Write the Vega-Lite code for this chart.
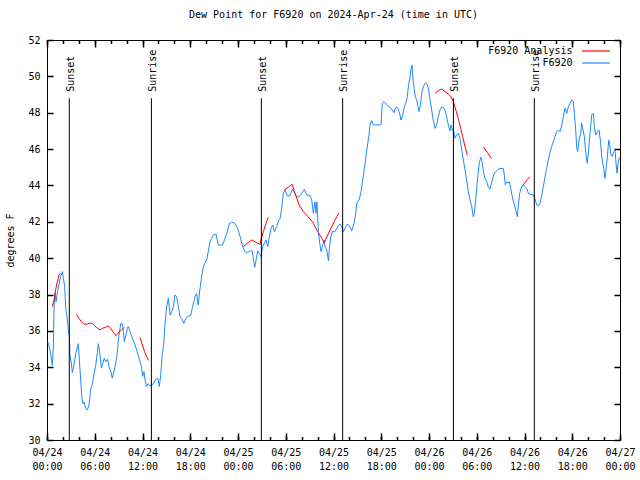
{
  "$schema": "https://vega.github.io/schema/vega-lite/v6.json",
  "width": 573,
  "height": 400,
  "autosize": "none",
  "padding": {"left": 47, "top": 40, "right": 20, "bottom": 40},
  "background": "white",
  "title": {"text": "Dew Point for F6920 on 2024-Apr-24 (time in UTC)", "font": "DejaVu Sans Mono", "fontSize": 10, "fontWeight": "normal", "anchor": "middle", "offset": 15, "color": "black"},
  "config": {
    "font": "DejaVu Sans Mono",
    "view": {"stroke": "black", "strokeWidth": 1},
    "axis": {"grid": false, "domain": false, "labelFont": "DejaVu Sans Mono", "labelFontSize": 10, "labelColor": "black", "titleFont": "DejaVu Sans Mono", "titleFontSize": 10, "titleFontWeight": "normal", "titleColor": "black", "labelFlush": false, "labelOverlap": false}
  },
  "datasets": {
    "blue": [
      {"t":"2024-04-24T00:08:00Z","v":35.38},{"t":"2024-04-24T00:23:00Z","v":34.95},{"t":"2024-04-24T00:33:00Z","v":34.5},{"t":"2024-04-24T00:40:00Z","v":34.1},{"t":"2024-04-24T00:48:00Z","v":35.1},{"t":"2024-04-24T00:53:00Z","v":37.3},{"t":"2024-04-24T01:00:00Z","v":38.1},{"t":"2024-04-24T01:08:00Z","v":37.6},{"t":"2024-04-24T01:18:00Z","v":38.1},{"t":"2024-04-24T01:31:00Z","v":38.6},{"t":"2024-04-24T01:43:00Z","v":39.0},{"t":"2024-04-24T01:56:00Z","v":39.27},{"t":"2024-04-24T02:03:00Z","v":38.9},{"t":"2024-04-24T02:13:00Z","v":38.5},{"t":"2024-04-24T02:21:00Z","v":37.25},{"t":"2024-04-24T02:34:00Z","v":36.6},{"t":"2024-04-24T02:41:00Z","v":36.05},{"t":"2024-04-24T02:49:00Z","v":35.7},{"t":"2024-04-24T02:53:00Z","v":34.7},{"t":"2024-04-24T03:04:00Z","v":34.2},{"t":"2024-04-24T03:11:00Z","v":33.7},{"t":"2024-04-24T03:19:00Z","v":33.95},{"t":"2024-04-24T03:29:00Z","v":34.4},{"t":"2024-04-24T03:38:00Z","v":34.8},{"t":"2024-04-24T03:49:00Z","v":35.1},{"t":"2024-04-24T03:56:00Z","v":35.3},{"t":"2024-04-24T04:04:00Z","v":34.4},{"t":"2024-04-24T04:14:00Z","v":33.3},{"t":"2024-04-24T04:22:00Z","v":32.4},{"t":"2024-04-24T04:31:00Z","v":32.0},{"t":"2024-04-24T04:39:00Z","v":32.1},{"t":"2024-04-24T04:52:00Z","v":31.74},{"t":"2024-04-24T05:04:00Z","v":31.65},{"t":"2024-04-24T05:17:00Z","v":31.93},{"t":"2024-04-24T05:29:00Z","v":32.75},{"t":"2024-04-24T05:42:00Z","v":33.1},{"t":"2024-04-24T05:54:00Z","v":33.6},{"t":"2024-04-24T06:07:00Z","v":34.1},{"t":"2024-04-24T06:20:00Z","v":34.8},{"t":"2024-04-24T06:27:00Z","v":35.3},{"t":"2024-04-24T06:37:00Z","v":34.86},{"t":"2024-04-24T06:50:00Z","v":33.95},{"t":"2024-04-24T07:00:00Z","v":34.2},{"t":"2024-04-24T07:12:00Z","v":34.5},{"t":"2024-04-24T07:25:00Z","v":34.3},{"t":"2024-04-24T07:37:00Z","v":34.44},{"t":"2024-04-24T07:50:00Z","v":33.95},{"t":"2024-04-24T08:02:00Z","v":33.76},{"t":"2024-04-24T08:12:00Z","v":33.4},{"t":"2024-04-24T08:25:00Z","v":33.76},{"t":"2024-04-24T08:38:00Z","v":34.2},{"t":"2024-04-24T08:50:00Z","v":34.8},{"t":"2024-04-24T08:58:00Z","v":35.5},{"t":"2024-04-24T09:05:00Z","v":35.87},{"t":"2024-04-24T09:16:00Z","v":36.4},{"t":"2024-04-24T09:28:00Z","v":36.4},{"t":"2024-04-24T09:36:00Z","v":35.96},{"t":"2024-04-24T09:43:00Z","v":35.4},{"t":"2024-04-24T09:53:00Z","v":35.7},{"t":"2024-04-24T10:06:00Z","v":36.15},{"t":"2024-04-24T10:13:00Z","v":36.24},{"t":"2024-04-24T10:26:00Z","v":35.96},{"t":"2024-04-24T10:43:00Z","v":35.6},{"t":"2024-04-24T11:01:00Z","v":35.3},{"t":"2024-04-24T11:16:00Z","v":34.95},{"t":"2024-04-24T11:34:00Z","v":34.5},{"t":"2024-04-24T11:52:00Z","v":34.04},{"t":"2024-04-24T12:01:00Z","v":33.5},{"t":"2024-04-24T12:11:00Z","v":33.76},{"t":"2024-04-24T12:19:00Z","v":33.3},{"t":"2024-04-24T12:31:00Z","v":32.94},{"t":"2024-04-24T12:41:00Z","v":33.1},{"t":"2024-04-24T12:56:00Z","v":33.0},{"t":"2024-04-24T13:07:00Z","v":33.0},{"t":"2024-04-24T13:22:00Z","v":33.1},{"t":"2024-04-24T13:39:00Z","v":33.34},{"t":"2024-04-24T13:57:00Z","v":33.38},{"t":"2024-04-24T14:07:00Z","v":32.94},{"t":"2024-04-24T14:17:00Z","v":33.57},{"t":"2024-04-24T14:30:00Z","v":34.77},{"t":"2024-04-24T14:39:00Z","v":35.2},{"t":"2024-04-24T14:50:00Z","v":36.42},{"t":"2024-04-24T15:02:00Z","v":37.34},{"t":"2024-04-24T15:15:00Z","v":37.8},{"t":"2024-04-24T15:28:00Z","v":36.87},{"t":"2024-04-24T15:40:00Z","v":37.05},{"t":"2024-04-24T15:53:00Z","v":37.34},{"t":"2024-04-24T16:05:00Z","v":37.98},{"t":"2024-04-24T16:17:00Z","v":37.9},{"t":"2024-04-24T16:30:00Z","v":37.34},{"t":"2024-04-24T16:43:00Z","v":36.78},{"t":"2024-04-24T16:55:00Z","v":36.7},{"t":"2024-04-24T17:12:00Z","v":36.42},{"t":"2024-04-24T17:27:00Z","v":36.7},{"t":"2024-04-24T17:46:00Z","v":36.82},{"t":"2024-04-24T18:03:00Z","v":36.84},{"t":"2024-04-24T18:18:00Z","v":37.34},{"t":"2024-04-24T18:36:00Z","v":37.88},{"t":"2024-04-24T18:48:00Z","v":38.06},{"t":"2024-04-24T19:00:00Z","v":37.42},{"t":"2024-04-24T19:12:00Z","v":38.25},{"t":"2024-04-24T19:24:00Z","v":38.9},{"t":"2024-04-24T19:36:00Z","v":39.44},{"t":"2024-04-24T19:48:00Z","v":39.7},{"t":"2024-04-24T20:04:00Z","v":39.9},{"t":"2024-04-24T20:18:00Z","v":40.45},{"t":"2024-04-24T20:29:00Z","v":40.9},{"t":"2024-04-24T20:41:00Z","v":41.09},{"t":"2024-04-24T20:54:00Z","v":41.27},{"t":"2024-04-24T21:14:00Z","v":41.33},{"t":"2024-04-24T21:32:00Z","v":40.72},{"t":"2024-04-24T22:04:00Z","v":40.72},{"t":"2024-04-24T22:22:00Z","v":41.09},{"t":"2024-04-24T22:40:00Z","v":41.45},{"t":"2024-04-24T22:54:00Z","v":41.9},{"t":"2024-04-24T23:12:00Z","v":41.96},{"t":"2024-04-24T23:32:00Z","v":41.94},{"t":"2024-04-24T23:50:00Z","v":41.73},
      {"t":"2024-04-25T00:02:00Z","v":41.54},{"t":"2024-04-25T00:20:00Z","v":41.09},{"t":"2024-04-25T00:35:00Z","v":40.63},{"t":"2024-04-25T00:53:00Z","v":40.36},{"t":"2024-04-25T01:10:00Z","v":40.3},{"t":"2024-04-25T01:30:00Z","v":40.4},{"t":"2024-04-25T01:48:00Z","v":40.4},{"t":"2024-04-25T01:56:00Z","v":39.9},{"t":"2024-04-25T02:06:00Z","v":39.5},{"t":"2024-04-25T02:16:00Z","v":39.9},{"t":"2024-04-25T02:29:00Z","v":40.4},{"t":"2024-04-25T02:41:00Z","v":40.27},{"t":"2024-04-25T02:54:00Z","v":40.08},{"t":"2024-04-25T03:06:00Z","v":40.63},{"t":"2024-04-25T03:19:00Z","v":40.82},{"t":"2024-04-25T03:31:00Z","v":41.0},{"t":"2024-04-25T03:44:00Z","v":40.63},{"t":"2024-04-25T03:56:00Z","v":41.18},{"t":"2024-04-25T04:09:00Z","v":41.64},{"t":"2024-04-25T04:22:00Z","v":41.82},{"t":"2024-04-25T04:34:00Z","v":41.45},{"t":"2024-04-25T04:52:00Z","v":41.73},{"t":"2024-04-25T05:04:00Z","v":42.05},{"t":"2024-04-25T05:17:00Z","v":42.18},{"t":"2024-04-25T05:29:00Z","v":42.7},{"t":"2024-04-25T05:42:00Z","v":43.6},{"t":"2024-04-25T05:55:00Z","v":43.74},{"t":"2024-04-25T06:12:00Z","v":43.42},{"t":"2024-04-25T06:32:00Z","v":43.45},{"t":"2024-04-25T06:50:00Z","v":43.8},{"t":"2024-04-25T07:05:00Z","v":43.6},{"t":"2024-04-25T07:23:00Z","v":43.38},{"t":"2024-04-25T07:40:00Z","v":43.38},{"t":"2024-04-25T08:00:00Z","v":43.57},{"t":"2024-04-25T08:20:00Z","v":43.79},{"t":"2024-04-25T08:38:00Z","v":43.48},{"t":"2024-04-25T09:03:00Z","v":43.44},{"t":"2024-04-25T09:16:00Z","v":43.2},{"t":"2024-04-25T09:28:00Z","v":42.47},{"t":"2024-04-25T09:40:00Z","v":43.1},{"t":"2024-04-25T09:48:00Z","v":42.47},{"t":"2024-04-25T09:55:00Z","v":43.1},{"t":"2024-04-25T10:06:00Z","v":41.46},{"t":"2024-04-25T10:16:00Z","v":40.82},{"t":"2024-04-25T10:26:00Z","v":40.36},{"t":"2024-04-25T10:36:00Z","v":40.63},{"t":"2024-04-25T10:49:00Z","v":41.0},{"t":"2024-04-25T10:56:00Z","v":40.63},{"t":"2024-04-25T11:09:00Z","v":40.45},{"t":"2024-04-25T11:22:00Z","v":39.86},{"t":"2024-04-25T11:29:00Z","v":40.54},{"t":"2024-04-25T11:40:00Z","v":41.18},{"t":"2024-04-25T11:52:00Z","v":41.46},{"t":"2024-04-25T12:11:00Z","v":41.46},{"t":"2024-04-25T12:32:00Z","v":41.73},{"t":"2024-04-25T12:49:00Z","v":41.88},{"t":"2024-04-25T13:02:00Z","v":41.73},{"t":"2024-04-25T13:14:00Z","v":41.46},{"t":"2024-04-25T13:32:00Z","v":41.73},{"t":"2024-04-25T13:47:00Z","v":41.88},{"t":"2024-04-25T14:04:00Z","v":41.73},{"t":"2024-04-25T14:17:00Z","v":41.5},{"t":"2024-04-25T14:35:00Z","v":41.92},{"t":"2024-04-25T14:47:00Z","v":42.47},{"t":"2024-04-25T14:58:00Z","v":43.1},{"t":"2024-04-25T15:13:00Z","v":43.2},{"t":"2024-04-25T15:28:00Z","v":43.66},{"t":"2024-04-25T15:37:00Z","v":44.12},{"t":"2024-04-25T15:48:00Z","v":44.67},{"t":"2024-04-25T15:58:00Z","v":45.22},{"t":"2024-04-25T16:08:00Z","v":45.77},{"t":"2024-04-25T16:18:00Z","v":46.32},{"t":"2024-04-25T16:28:00Z","v":46.78},{"t":"2024-04-25T16:35:00Z","v":47.33},{"t":"2024-04-25T16:48:00Z","v":47.57},{"t":"2024-04-25T17:00:00Z","v":47.33},{"t":"2024-04-25T17:26:00Z","v":47.33},{"t":"2024-04-25T17:58:00Z","v":47.33},{"t":"2024-04-25T18:08:00Z","v":48.52},{"t":"2024-04-25T18:21:00Z","v":48.61},{"t":"2024-04-25T18:41:00Z","v":48.43},{"t":"2024-04-25T19:06:00Z","v":48.3},{"t":"2024-04-25T19:23:00Z","v":48.15},{"t":"2024-04-25T19:38:00Z","v":48.0},{"t":"2024-04-25T19:44:00Z","v":48.24},{"t":"2024-04-25T20:01:00Z","v":48.3},{"t":"2024-04-25T20:16:00Z","v":48.06},{"t":"2024-04-25T20:29:00Z","v":47.6},{"t":"2024-04-25T20:42:00Z","v":47.88},{"t":"2024-04-25T20:54:00Z","v":48.33},{"t":"2024-04-25T21:07:00Z","v":48.57},{"t":"2024-04-25T21:17:00Z","v":48.88},{"t":"2024-04-25T21:24:00Z","v":49.43},{"t":"2024-04-25T21:37:00Z","v":49.98},{"t":"2024-04-25T21:44:00Z","v":50.35},{"t":"2024-04-25T21:52:00Z","v":50.63},{"t":"2024-04-25T21:57:00Z","v":50.08},{"t":"2024-04-25T22:07:00Z","v":49.35},{"t":"2024-04-25T22:17:00Z","v":48.88},{"t":"2024-04-25T22:28:00Z","v":48.7},{"t":"2024-04-25T22:37:00Z","v":48.33},{"t":"2024-04-25T22:45:00Z","v":48.06},{"t":"2024-04-25T22:55:00Z","v":48.43},{"t":"2024-04-25T23:05:00Z","v":49.07},{"t":"2024-04-25T23:17:00Z","v":49.43},{"t":"2024-04-25T23:30:00Z","v":49.62},{"t":"2024-04-25T23:43:00Z","v":49.62},{"t":"2024-04-25T23:55:00Z","v":49.35},
      {"t":"2024-04-26T00:08:00Z","v":48.7},{"t":"2024-04-26T00:20:00Z","v":48.15},{"t":"2024-04-26T00:32:00Z","v":47.6},{"t":"2024-04-26T00:46:00Z","v":47.14},{"t":"2024-04-26T00:58:00Z","v":47.33},{"t":"2024-04-26T01:10:00Z","v":47.78},{"t":"2024-04-26T01:23:00Z","v":48.15},{"t":"2024-04-26T01:36:00Z","v":48.33},{"t":"2024-04-26T01:53:00Z","v":48.24},{"t":"2024-04-26T02:08:00Z","v":47.97},{"t":"2024-04-26T02:18:00Z","v":47.6},{"t":"2024-04-26T02:29:00Z","v":47.23},{"t":"2024-04-26T02:38:00Z","v":47.0},{"t":"2024-04-26T02:46:00Z","v":47.33},{"t":"2024-04-26T02:56:00Z","v":47.05},{"t":"2024-04-26T03:07:00Z","v":46.96},{"t":"2024-04-26T03:16:00Z","v":46.6},{"t":"2024-04-26T03:29:00Z","v":46.78},{"t":"2024-04-26T03:41:00Z","v":46.87},{"t":"2024-04-26T03:54:00Z","v":46.6},{"t":"2024-04-26T04:07:00Z","v":45.95},{"t":"2024-04-26T04:19:00Z","v":45.4},{"t":"2024-04-26T04:32:00Z","v":44.85},{"t":"2024-04-26T04:44:00Z","v":44.3},{"t":"2024-04-26T04:56:00Z","v":43.66},{"t":"2024-04-26T05:09:00Z","v":43.2},{"t":"2024-04-26T05:22:00Z","v":42.84},{"t":"2024-04-26T05:34:00Z","v":42.28},{"t":"2024-04-26T05:41:00Z","v":42.47},{"t":"2024-04-26T05:52:00Z","v":43.2},{"t":"2024-04-26T06:00:00Z","v":43.93},{"t":"2024-04-26T06:10:00Z","v":44.67},{"t":"2024-04-26T06:19:00Z","v":45.22},{"t":"2024-04-26T06:30:00Z","v":45.55},{"t":"2024-04-26T06:40:00Z","v":45.31},{"t":"2024-04-26T06:50:00Z","v":44.76},{"t":"2024-04-26T07:02:00Z","v":44.4},{"t":"2024-04-26T07:15:00Z","v":44.21},{"t":"2024-04-26T07:27:00Z","v":43.93},{"t":"2024-04-26T07:40:00Z","v":43.79},{"t":"2024-04-26T07:47:00Z","v":44.03},{"t":"2024-04-26T08:01:00Z","v":44.4},{"t":"2024-04-26T08:10:00Z","v":44.63},{"t":"2024-04-26T08:25:00Z","v":44.76},{"t":"2024-04-26T08:43:00Z","v":44.9},{"t":"2024-04-26T09:03:00Z","v":44.94},{"t":"2024-04-26T09:20:00Z","v":44.94},{"t":"2024-04-26T09:28:00Z","v":44.58},{"t":"2024-04-26T09:35:00Z","v":44.03},{"t":"2024-04-26T09:46:00Z","v":44.21},{"t":"2024-04-26T09:58:00Z","v":44.12},{"t":"2024-04-26T10:06:00Z","v":44.21},{"t":"2024-04-26T10:16:00Z","v":43.84},{"t":"2024-04-26T10:28:00Z","v":43.38},{"t":"2024-04-26T10:41:00Z","v":43.0},{"t":"2024-04-26T10:54:00Z","v":42.65},{"t":"2024-04-26T11:06:00Z","v":42.28},{"t":"2024-04-26T11:13:00Z","v":42.84},{"t":"2024-04-26T11:24:00Z","v":43.57},{"t":"2024-04-26T11:34:00Z","v":43.84},{"t":"2024-04-26T11:47:00Z","v":44.03},{"t":"2024-04-26T11:59:00Z","v":43.97},{"t":"2024-04-26T12:17:00Z","v":43.84},{"t":"2024-04-26T12:29:00Z","v":43.57},{"t":"2024-04-26T12:49:00Z","v":43.5},{"t":"2024-04-26T13:07:00Z","v":43.48},{"t":"2024-04-26T13:19:00Z","v":43.26},{"t":"2024-04-26T13:32:00Z","v":42.93},{"t":"2024-04-26T13:44:00Z","v":42.88},{"t":"2024-04-26T13:57:00Z","v":43.02},{"t":"2024-04-26T14:10:00Z","v":43.48},{"t":"2024-04-26T14:22:00Z","v":43.93},{"t":"2024-04-26T14:35:00Z","v":44.48},{"t":"2024-04-26T14:47:00Z","v":44.94},{"t":"2024-04-26T14:59:00Z","v":45.4},{"t":"2024-04-26T15:13:00Z","v":45.86},{"t":"2024-04-26T15:25:00Z","v":46.14},{"t":"2024-04-26T15:37:00Z","v":46.41},{"t":"2024-04-26T15:50:00Z","v":46.69},{"t":"2024-04-26T16:03:00Z","v":46.96},{"t":"2024-04-26T16:15:00Z","v":47.05},{"t":"2024-04-26T16:28:00Z","v":46.96},{"t":"2024-04-26T16:41:00Z","v":47.33},{"t":"2024-04-26T16:53:00Z","v":47.79},{"t":"2024-04-26T17:05:00Z","v":48.24},{"t":"2024-04-26T17:19:00Z","v":47.97},{"t":"2024-04-26T17:31:00Z","v":48.33},{"t":"2024-04-26T17:43:00Z","v":48.52},{"t":"2024-04-26T17:56:00Z","v":48.7},{"t":"2024-04-26T18:08:00Z","v":48.6},{"t":"2024-04-26T18:16:00Z","v":47.97},{"t":"2024-04-26T18:26:00Z","v":47.05},{"t":"2024-04-26T18:34:00Z","v":46.04},{"t":"2024-04-26T18:41:00Z","v":45.86},{"t":"2024-04-26T18:51:00Z","v":46.5},{"t":"2024-04-26T19:04:00Z","v":46.87},{"t":"2024-04-26T19:11:00Z","v":47.42},{"t":"2024-04-26T19:21:00Z","v":47.05},{"t":"2024-04-26T19:31:00Z","v":46.69},{"t":"2024-04-26T19:44:00Z","v":45.68},{"t":"2024-04-26T19:53:00Z","v":45.22},{"t":"2024-04-26T20:04:00Z","v":45.95},{"t":"2024-04-26T20:14:00Z","v":46.87},{"t":"2024-04-26T20:27:00Z","v":47.88},{"t":"2024-04-26T20:39:00Z","v":47.97},{"t":"2024-04-26T20:47:00Z","v":47.24},{"t":"2024-04-26T20:57:00Z","v":46.78},{"t":"2024-04-26T21:09:00Z","v":46.96},{"t":"2024-04-26T21:22:00Z","v":47.05},{"t":"2024-04-26T21:32:00Z","v":46.5},{"t":"2024-04-26T21:42:00Z","v":45.59},{"t":"2024-04-26T21:50:00Z","v":45.22},{"t":"2024-04-26T21:57:00Z","v":44.94},{"t":"2024-04-26T22:07:00Z","v":44.39},{"t":"2024-04-26T22:14:00Z","v":44.85},{"t":"2024-04-26T22:25:00Z","v":45.59},{"t":"2024-04-26T22:35:00Z","v":46.5},{"t":"2024-04-26T22:45:00Z","v":46.14},{"t":"2024-04-26T22:52:00Z","v":45.68},{"t":"2024-04-26T23:02:00Z","v":45.59},{"t":"2024-04-26T23:13:00Z","v":45.86},{"t":"2024-04-26T23:23:00Z","v":45.95},{"t":"2024-04-26T23:30:00Z","v":45.22},{"t":"2024-04-26T23:38:00Z","v":44.67},{"t":"2024-04-26T23:45:00Z","v":45.22},{"t":"2024-04-26T23:55:00Z","v":45.55}
    ],
    "red": [
      {"seg":1,"t":"2024-04-24T00:40:00Z","v":37.34},{"seg":1,"t":"2024-04-24T00:53:00Z","v":37.7},{"seg":1,"t":"2024-04-24T01:05:00Z","v":38.26},{"seg":1,"t":"2024-04-24T01:18:00Z","v":38.7},{"seg":1,"t":"2024-04-24T01:31:00Z","v":39.08},{"seg":1,"t":"2024-04-24T01:43:00Z","v":39.17},
      {"seg":2,"t":"2024-04-24T03:41:00Z","v":36.92},{"seg":2,"t":"2024-04-24T04:01:00Z","v":36.7},{"seg":2,"t":"2024-04-24T04:19:00Z","v":36.5},{"seg":2,"t":"2024-04-24T04:39:00Z","v":36.37},{"seg":2,"t":"2024-04-24T05:04:00Z","v":36.37},{"seg":2,"t":"2024-04-24T05:17:00Z","v":36.42},{"seg":2,"t":"2024-04-24T05:42:00Z","v":36.42},{"seg":2,"t":"2024-04-24T05:59:00Z","v":36.28},{"seg":2,"t":"2024-04-24T06:20:00Z","v":36.15},{"seg":2,"t":"2024-04-24T06:40:00Z","v":36.06},{"seg":2,"t":"2024-04-24T07:00:00Z","v":36.15},{"seg":2,"t":"2024-04-24T07:22:00Z","v":36.2},{"seg":2,"t":"2024-04-24T07:40:00Z","v":36.28},{"seg":2,"t":"2024-04-24T08:00:00Z","v":36.15},{"seg":2,"t":"2024-04-24T08:20:00Z","v":35.93},{"seg":2,"t":"2024-04-24T08:40:00Z","v":35.74},{"seg":2,"t":"2024-04-24T08:55:00Z","v":35.87},{"seg":2,"t":"2024-04-24T09:16:00Z","v":36.02},{"seg":2,"t":"2024-04-24T09:31:00Z","v":36.11},{"seg":2,"t":"2024-04-24T09:43:00Z","v":36.2},
      {"seg":3,"t":"2024-04-24T11:41:00Z","v":35.65},{"seg":3,"t":"2024-04-24T11:59:00Z","v":35.23},{"seg":3,"t":"2024-04-24T12:16:00Z","v":34.86},{"seg":3,"t":"2024-04-24T12:31:00Z","v":34.59},{"seg":3,"t":"2024-04-24T12:46:00Z","v":34.37},
      {"seg":4,"t":"2024-04-25T00:40:00Z","v":40.63},{"seg":4,"t":"2024-04-25T01:10:00Z","v":40.82},{"seg":4,"t":"2024-04-25T01:43:00Z","v":41.0},{"seg":4,"t":"2024-04-25T02:16:00Z","v":40.87},{"seg":4,"t":"2024-04-25T02:46:00Z","v":40.76},{"seg":4,"t":"2024-04-25T02:53:00Z","v":41.0},{"seg":4,"t":"2024-04-25T03:11:00Z","v":41.46},{"seg":4,"t":"2024-04-25T03:31:00Z","v":41.92},{"seg":4,"t":"2024-04-25T03:49:00Z","v":42.25},
      {"seg":5,"t":"2024-04-25T05:49:00Z","v":43.75},{"seg":5,"t":"2024-04-25T06:19:00Z","v":43.9},{"seg":5,"t":"2024-04-25T06:49:00Z","v":44.06},{"seg":5,"t":"2024-04-25T07:05:00Z","v":43.66},{"seg":5,"t":"2024-04-25T07:23:00Z","v":43.3},{"seg":5,"t":"2024-04-25T07:40:00Z","v":42.93},{"seg":5,"t":"2024-04-25T08:13:00Z","v":42.56},{"seg":5,"t":"2024-04-25T08:50:00Z","v":42.28},{"seg":5,"t":"2024-04-25T09:28:00Z","v":41.92},{"seg":5,"t":"2024-04-25T10:01:00Z","v":41.46},{"seg":5,"t":"2024-04-25T10:31:00Z","v":41.1},{"seg":5,"t":"2024-04-25T10:51:00Z","v":40.85},{"seg":5,"t":"2024-04-25T11:16:00Z","v":41.27},{"seg":5,"t":"2024-04-25T11:41:00Z","v":41.64},{"seg":5,"t":"2024-04-25T12:11:00Z","v":42.1},{"seg":5,"t":"2024-04-25T12:41:00Z","v":42.47},
      {"seg":6,"t":"2024-04-26T00:46:00Z","v":49.07},{"seg":6,"t":"2024-04-26T01:10:00Z","v":49.21},{"seg":6,"t":"2024-04-26T01:36:00Z","v":49.31},{"seg":6,"t":"2024-04-26T02:01:00Z","v":49.16},{"seg":6,"t":"2024-04-26T02:26:00Z","v":49.02},{"seg":6,"t":"2024-04-26T02:46:00Z","v":48.88},{"seg":6,"t":"2024-04-26T03:04:00Z","v":48.61},{"seg":6,"t":"2024-04-26T03:22:00Z","v":48.15},{"seg":6,"t":"2024-04-26T03:41:00Z","v":47.69},{"seg":6,"t":"2024-04-26T03:59:00Z","v":47.14},{"seg":6,"t":"2024-04-26T04:14:00Z","v":46.68},{"seg":6,"t":"2024-04-26T04:32:00Z","v":46.13},{"seg":6,"t":"2024-04-26T04:49:00Z","v":45.68},
      {"seg":7,"t":"2024-04-26T06:50:00Z","v":46.13},{"seg":7,"t":"2024-04-26T07:20:00Z","v":45.81},{"seg":7,"t":"2024-04-26T07:50:00Z","v":45.49},
      {"seg":9,"t":"2024-04-26T11:51:00Z","v":44.03},{"seg":9,"t":"2024-04-26T12:09:00Z","v":44.21},{"seg":9,"t":"2024-04-26T12:24:00Z","v":44.34},{"seg":9,"t":"2024-04-26T12:41:00Z","v":44.48}
    ],
    "events": [
      {"t":"2024-04-24T02:48:00Z","label":"Sunset"},
      {"t":"2024-04-24T13:07:00Z","label":"Sunrise"},
      {"t":"2024-04-25T02:56:00Z","label":"Sunset"},
      {"t":"2024-04-25T13:09:00Z","label":"Sunrise"},
      {"t":"2024-04-26T03:04:00Z","label":"Sunset"},
      {"t":"2024-04-26T13:14:00Z","label":"Sunrise"}
    ]
  },
  "resolve": {"axis": {"x": "independent", "y": "independent"}},
  "layer": [
    {
      "data": {"name": "blue"},
      "mark": {"type": "line", "strokeWidth": 1},
      "encoding": {
        "x": {"field": "t", "type": "temporal",
          "scale": {"type": "utc", "domain": [{"year": 2024, "month": 4, "date": 24, "utc": true}, {"year": 2024, "month": 4, "date": 27, "utc": true}], "nice": false},
          "axis": {"orient": "bottom", "title": null, "ticks": true, "tickColor": "#000000", "tickWidth": 1.5, "tickOpacity": 1,
            "values": [1713916800000,1713938400000,1713960000000,1713981600000,1714003200000,1714024800000,1714046400000,1714068000000,1714089600000,1714111200000,1714132800000,1714154400000,1714176000000],
            "labelExpr": "[utcFormat(datum.value, '%m/%d'), utcFormat(datum.value, '%H:%M')]",
            "offset": -7, "tickSize": 7, "labelPadding": 7.5, "labelBaseline": "top", "labelLineHeight": 14, "labelAlign": "center", "labelAngle": 0, "labelOverlap": false}
        },
        "y": {"field": "v", "type": "quantitative",
          "scale": {"domain": [30, 52], "nice": false, "zero": false},
          "axis": {"orient": "left", "values": [30,32,34,36,38,40,42,44,46,48,50,52], "ticks": true, "tickColor": "#000000", "tickWidth": 1.5, "tickOpacity": 1, "offset": -6, "tickSize": 6, "labelPadding": 7, "labelOverlap": false,
            "title": "degrees F", "titleX": -43, "titleY": 200, "titleAngle": 270, "titleBaseline": "middle", "titleAlign": "center"}
        },
        "color": {"datum": "F6920", "type": "nominal",
          "scale": {"domain": ["F6920 Analysis", "F6920"], "range": ["#ff0000", "#1e88ff"]},
          "legend": {"title": null, "orient": "none", "legendX": 544, "legendY": 6, "symbolType": "M-4,0H4", "symbolSize": 49, "symbolStrokeWidth": 1.2,
            "labelAlign": "right", "labelOffset": -28.5, "labelFont": "DejaVu Sans Mono", "labelFontSize": 10, "labelColor": "black", "padding": 0, "rowPadding": 2, "labelLimit": 0}
        }
      }
    },
    {
      "data": {"name": "red"},
      "mark": {"type": "line", "strokeWidth": 1},
      "encoding": {
        "x": {"field": "t", "type": "temporal",
          "axis": {"orient": "top", "title": null, "labels": false, "ticks": true, "tickColor": "#000000", "tickWidth": 1.5, "tickOpacity": 1, "offset": -7, "tickSize": 7,
            "values": [1713916800000,1713938400000,1713960000000,1713981600000,1714003200000,1714024800000,1714046400000,1714068000000,1714089600000,1714111200000,1714132800000,1714154400000,1714176000000]}
        },
        "y": {"field": "v", "type": "quantitative",
          "axis": {"orient": "right", "title": null, "labels": false, "ticks": true, "tickColor": "#000000", "tickWidth": 1.5, "tickOpacity": 1, "offset": -6, "tickSize": 6, "values": [30,32,34,36,38,40,42,44,46,48,50,52]}
        },
        "detail": {"field": "seg", "type": "nominal"},
        "color": {"datum": "F6920 Analysis", "type": "nominal"}
      }
    },
    {
      "data": {"name": "events"},
      "mark": {"type": "rule", "color": "black", "strokeWidth": 1},
      "encoding": {
        "x": {"field": "t", "type": "temporal",
          "axis": {"orient": "bottom", "title": null, "labels": false, "ticks": true, "tickColor": "#000000", "tickWidth": 1.5, "tickOpacity": 1, "offset": -3.5, "tickSize": 3.5,
            "values": [1713916800000,1713924000000,1713931200000,1713938400000,1713945600000,1713952800000,1713960000000,1713967200000,1713974400000,1713981600000,1713988800000,1713996000000,1714003200000,1714010400000,1714017600000,1714024800000,1714032000000,1714039200000,1714046400000,1714053600000,1714060800000,1714068000000,1714075200000,1714082400000,1714089600000,1714096800000,1714104000000,1714111200000,1714118400000,1714125600000,1714132800000,1714140000000,1714147200000,1714154400000,1714161600000,1714168800000,1714176000000]}
        },
        "y": {"datum": 30, "type": "quantitative", "axis": null},
        "y2": {"datum": 48.8}
      }
    },
    {
      "data": {"name": "events"},
      "mark": {"type": "text", "angle": 270, "align": "left", "baseline": "middle", "dy": 1.5, "font": "DejaVu Sans Mono", "fontSize": 10, "color": "black"},
      "encoding": {
        "x": {"field": "t", "type": "temporal",
          "axis": {"orient": "top", "title": null, "labels": false, "ticks": true, "tickColor": "#000000", "tickWidth": 1.5, "tickOpacity": 1, "offset": -3.5, "tickSize": 3.5,
            "values": [1713916800000,1713924000000,1713931200000,1713938400000,1713945600000,1713952800000,1713960000000,1713967200000,1713974400000,1713981600000,1713988800000,1713996000000,1714003200000,1714010400000,1714017600000,1714024800000,1714032000000,1714039200000,1714046400000,1714053600000,1714060800000,1714068000000,1714075200000,1714082400000,1714089600000,1714096800000,1714104000000,1714111200000,1714118400000,1714125600000,1714132800000,1714140000000,1714147200000,1714154400000,1714161600000,1714168800000,1714176000000]}
        },
        "y": {"datum": 49.15, "type": "quantitative", "axis": null},
        "text": {"field": "label"}
      }
    }
  ]
}
